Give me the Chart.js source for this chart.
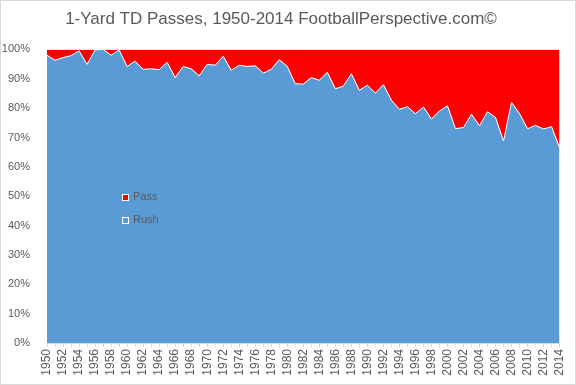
<!DOCTYPE html>
<html>
<head>
<meta charset="UTF-8">
<title>1-Yard TD Passes</title>
<script src="https://cdn.jsdelivr.net/npm/chart.js@4.4.1/dist/chart.umd.min.js"></script>
<style>
	body { margin: 0; background: #fff; }
	#casca { position: relative; width: 576px; height: 385px; }
	#legenda { position: absolute; left: 122px; top: 188px; font: 11px "Liberation Sans", Arial, sans-serif; color: #595959; }
	#legenda div { height: 23px; line-height: 16px; }
	#legenda span.q { display: inline-block; width: 5px; height: 5px; border: 1px solid #fff; margin-right: 4px; vertical-align: -1px; }
</style>
</head>
<body>
<div id="casca">
	<canvas id="grafico" width="576" height="385"></canvas>
	<div id="legenda">
		<div><span class="q" style="background:#ff0000"></span>Pass</div>
		<div><span class="q" style="background:#5b9bd5"></span>Rush</div>
	</div>
</div>
<script>
	var anos = [];
	for (var a = 1950; a <= 2014; a++) anos.push(String(a));

	// percentage of 1-yard TDs that were runs
	var rush = [
		98.0, 96.3, 97.2, 97.9, 99.5, 94.9, 99.8, 100.0, 98.0, 99.8,
		94.2, 96.0, 93.2, 93.4, 93.1, 95.6, 90.4, 94.2, 93.4, 91.0,
		94.9, 94.6, 97.7, 92.9, 94.6, 94.2, 94.4, 91.9, 93.2, 96.5,
		94.2, 88.3, 88.2, 90.4, 89.5, 92.2, 86.6, 87.5, 91.7, 86.1,
		87.8, 85.1, 88.0, 82.7, 79.6, 80.5, 78.1, 80.4, 76.3, 79.0,
		80.8, 73.0, 73.4, 77.9, 74.0, 78.8, 76.8, 68.8, 82.0, 78.1,
		73.0, 74.1, 72.9, 73.7, 66.5
	];
	var pass = rush.map(function(v){ return Math.round((100 - v) * 10) / 10; });

	var rotulosY = [0, 10, 20, 30, 40, 50, 60, 70, 80, 90, 100];

	var cinza = "#595959";
	var fonte = "'Liberation Sans', Arial, sans-serif";

	var moldura = {
		id: "moldura",
		beforeDraw: function(chart){
			var ctx = chart.ctx;
			ctx.save();
			ctx.fillStyle = "#fff";
			ctx.fillRect(0, 0, chart.width, chart.height);
			ctx.strokeStyle = "#d9d9d9";
			ctx.lineWidth = 1;
			ctx.strokeRect(0.5, 0.5, chart.width - 1, chart.height - 1);
			ctx.restore();
		}
	};

	new Chart(document.getElementById("grafico"), {
		type: "line",
		data: {
			labels: anos,
			datasets: [
				{
					label: "Rush",
					data: rush,
					backgroundColor: "#5b9bd5",
					borderColor: "#ffffff",
					borderWidth: 1,
					fill: "origin",
					pointRadius: 0,
					tension: 0,
					order: 1
				},
				{
					label: "Pass",
					data: pass,
					backgroundColor: "#ff0000",
					borderColor: "rgba(0,0,0,0)",
					borderWidth: 0,
					fill: "-1",
					pointRadius: 0,
					tension: 0,
					order: 2
				}
			]
		},
		options: {
			responsive: false,
			animation: false,
			layout: { padding: { left: 0, right: 14, top: 0, bottom: 0 } },
			plugins: {
				legend: { display: false },
				tooltip: { enabled: false },
				title: {
					display: true,
					text: "1-Yard TD Passes, 1950-2014 FootballPerspective.com\u00a9",
					color: cinza,
					font: { family: fonte, size: 17, weight: "normal" },
					padding: { top: 9, bottom: 20 }
				}
			},
			scales: {
				x: {
					offset: false,
					grid: { display: true, drawOnChartArea: false, drawTicks: true, tickLength: 4, color: "#d9d9d9" },
					border: { display: true, color: "#d9d9d9" },
					ticks: {
						autoSkip: false,
						maxRotation: 90,
						minRotation: 90,
						padding: 2,
						color: cinza,
						font: { family: fonte, size: 12 },
						callback: function(v, i){ return (i % 2 === 0) ? anos[i] : ""; }
					},
					afterFit: function(s){ s.height = 42; }
				},
				y: {
					stacked: true,
					min: 0,
					max: 100,
					grid: { display: false },
					border: { display: false },
					afterBuildTicks: function(s){ s.ticks = rotulosY.map(function(v){ return { value: v }; }); },
					ticks: {
						padding: 9,
						color: cinza,
						font: { family: fonte, size: 11 },
						callback: function(v){ return v + "%"; }
					},
					afterFit: function(s){ s.width = 47; }
				}
			}
		},
		plugins: [moldura]
	});
</script>
</body>
</html>
